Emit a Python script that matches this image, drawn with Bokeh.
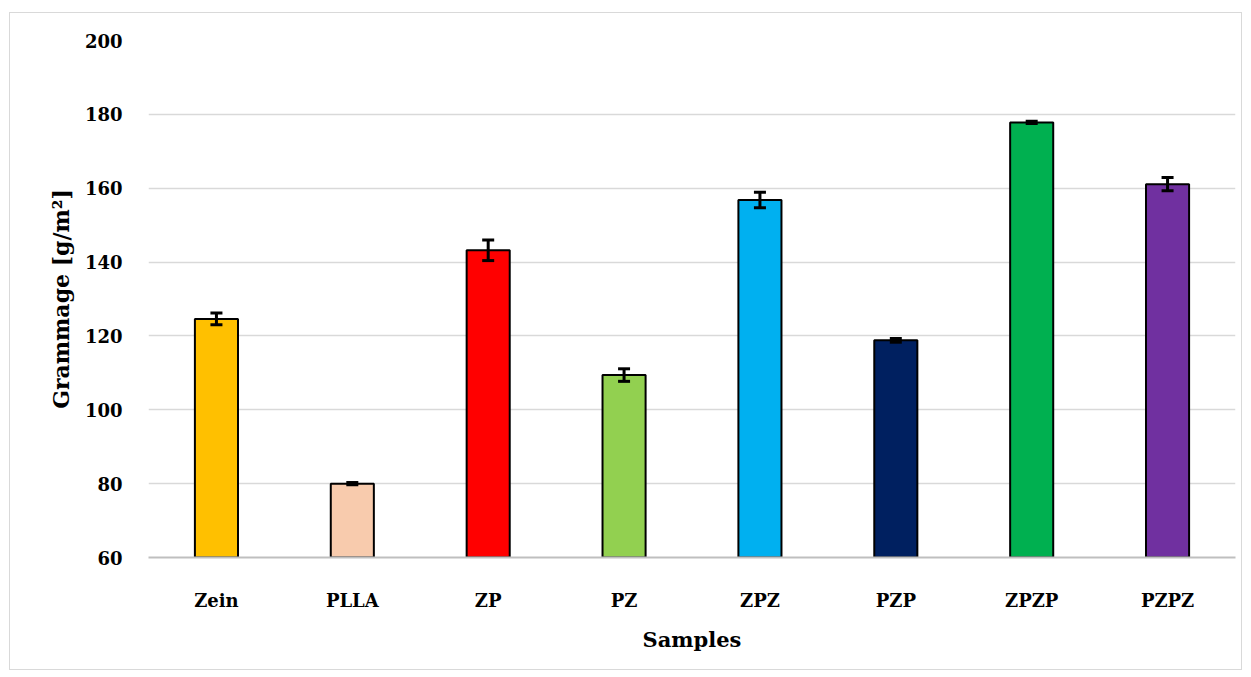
from bokeh.plotting import figure
from bokeh.models import ColumnDataSource, Whisker, TeeHead, FixedTicker, Range1d, FactorRange
from bokeh.embed import file_html
from bokeh.resources import INLINE

samples = ["Zein", "PLLA", "ZP", "PZ", "ZPZ", "PZP", "ZPZP", "PZPZ"]
grammage = [124.6, 80.0, 143.2, 109.4, 156.8, 118.8, 177.8, 161.1]
errors = [1.6, 0.3, 2.8, 1.7, 2.1, 0.5, 0.3, 1.8]
colors = ["#FFC000", "#F8CBAD", "#FF0000", "#92D050", "#00B0F0", "#002060", "#00B050", "#7030A0"]
y_ticks = [60, 80, 100, 120, 140, 160, 180, 200]

src = ColumnDataSource(dict(
    x=samples, top=grammage, color=colors,
    upper=[g + e for g, e in zip(grammage, errors)],
    lower=[g - e for g, e in zip(grammage, errors)],
))

FONT = "DejaVu Serif"

p = figure(width=1233, height=658, x_range=FactorRange(*samples, range_padding=0),
           y_range=Range1d(60, 200), output_backend="svg", toolbar_location=None,
           min_border_left=138, min_border_top=27, min_border_right=8, min_border_bottom=114)
p.styles = {"border": "1px solid #d9d9d9", "margin-left": "9px", "margin-top": "12px"}
p.outline_line_color = None

p.vbar(x="x", top="top", bottom=60, width=0.317, fill_color="color",
       line_color="black", line_width=2, source=src)

w = Whisker(base="x", upper="upper", lower="lower", source=src,
            line_color="black", line_width=3, level="annotation",
            upper_head=TeeHead(size=12, line_color="black", line_width=3),
            lower_head=TeeHead(size=12, line_color="black", line_width=3))
p.add_layout(w)

p.xgrid.grid_line_color = None
p.ygrid.grid_line_color = "#d9d9d9"
p.ygrid.grid_line_width = 1.5
p.yaxis.ticker = FixedTicker(ticks=y_ticks)

p.yaxis.axis_line_color = None
p.yaxis.major_tick_line_color = None
p.yaxis.minor_tick_line_color = None
p.yaxis.major_label_standoff = 20
p.yaxis.major_label_text_font = FONT
p.yaxis.major_label_text_font_style = "bold"
p.yaxis.major_label_text_font_size = "18px"
p.yaxis.major_label_text_color = "black"
p.yaxis.axis_label = "Grammage [g/m²]"
p.yaxis.axis_label_text_font = FONT
p.yaxis.axis_label_text_font_style = "bold"
p.yaxis.axis_label_text_font_size = "22px"
p.yaxis.axis_label_text_color = "black"
p.yaxis.axis_label_standoff = 8

p.xaxis.axis_line_color = "#bfbfbf"
p.xaxis.axis_line_width = 2
p.xaxis.major_tick_line_color = None
p.xaxis.minor_tick_line_color = None
p.xaxis.major_label_standoff = 26
p.xaxis.major_label_text_font = FONT
p.xaxis.major_label_text_font_style = "bold"
p.xaxis.major_label_text_font_size = "18px"
p.xaxis.major_label_text_color = "black"
p.xaxis.axis_label = "Samples"
p.xaxis.axis_label_text_font = FONT
p.xaxis.axis_label_text_font_style = "bold"
p.xaxis.axis_label_text_font_size = "21px"
p.xaxis.axis_label_text_color = "black"
p.xaxis.axis_label_standoff = 13

open("out.html", "w").write(file_html(p, INLINE))
